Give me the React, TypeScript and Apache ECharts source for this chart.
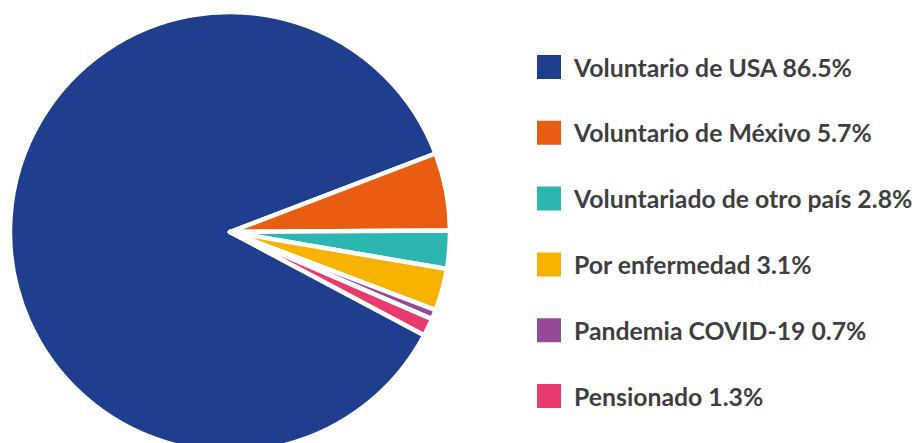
import React, { useEffect, useRef } from "react";
import * as echarts from "echarts";

const categories = [
  "Voluntario de USA",
  "Voluntario de Méxivo",
  "Voluntariado de otro país",
  "Por enfermedad",
  "Pandemia COVID-19",
  "Pensionado",
];
const values = [86.5, 5.7, 2.8, 3.1, 0.7, 1.3];
const colors = ["#1f3e8d", "#e95d13", "#2bb6b1", "#f8b200", "#954a98", "#e83a6c"];

export default function App() {
  const ref = useRef<HTMLDivElement>(null);
  useEffect(() => {
    document.body.style.margin = "0";
    const chart = echarts.init(ref.current!, undefined, { renderer: "svg" });
    chart.setOption({
      animation: false,
      color: colors,
      legend: {
        orient: "vertical",
        left: 535,
        top: 53,
        padding: 0,
        itemWidth: 26,
        itemHeight: 26,
        itemGap: 37.8,
        icon: "rect",
        selectedMode: false,
        data: categories,
        formatter: (name: string) => {
          const i = categories.indexOf(name);
          return `${name} ${values[i]}%`;
        },
        textStyle: {
          fontFamily: "Lato",
          fontWeight: "bold",
          fontSize: 24.8,
          lineHeight: 26,
          color: "#3f3f3f",
          padding: [0, 0, 0, 7],
        },
      },
      series: [
        {
          type: "pie",
          center: [230, 232],
          radius: 220,
          startAngle: -28,
          clockwise: true,
          label: { show: false },
          labelLine: { show: false },
          itemStyle: { borderColor: "#ffffff", borderWidth: 4.5 },
          emphasis: { disabled: true },
          data: categories.map((n, i) => ({ name: n, value: values[i] })),
        },
      ],
    });
    return () => chart.dispose();
  }, []);
  return <div ref={ref} style={{ width: 917, height: 443 }} />;
}
